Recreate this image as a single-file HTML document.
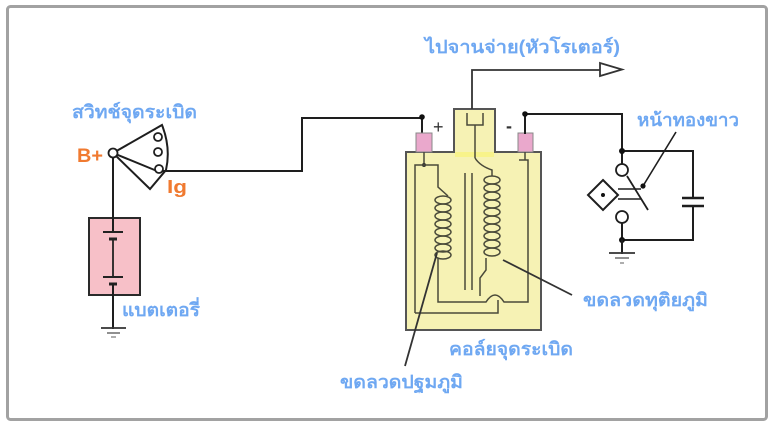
<!DOCTYPE html>
<html>
<head>
<meta charset="utf-8">
<style>
  html,body{margin:0;padding:0;background:#fff;}
  svg{display:block;}
  .w{fill:none;stroke:#1e1e1e;stroke-width:2;stroke-linecap:square;stroke-linejoin:miter;}
  .t{fill:none;stroke:#4a4a3a;stroke-width:1.5;}
  .lb{font-family:"Liberation Sans","DejaVu Sans","Noto Sans CJK SC",sans-serif;font-weight:bold;font-size:18px;fill:#6fa8f2;}
  .or{font-family:"Liberation Sans","DejaVu Sans",sans-serif;font-weight:bold;fill:#f07a30;}
</style>
</head>
<body>
<svg width="773" height="426" viewBox="0 0 773 426" xmlns="http://www.w3.org/2000/svg">
  <rect x="0" y="0" width="773" height="426" fill="#fff"/>
  <!-- frame -->
  <rect x="7.5" y="6.5" width="759" height="413" rx="3" fill="#fff" stroke="#a2a2a2" stroke-width="3"/>

  <!-- ===== Ignition switch ===== -->
  <path class="w" d="M113,153 L162,125 Q171,148 166,170 L150,189 L113,153 Z"/>
  <line class="w" x1="113" y1="153" x2="157" y2="171"/>
  <circle cx="158" cy="137" r="4" fill="#fff" stroke="#1e1e1e" stroke-width="1.8"/>
  <circle cx="158" cy="152" r="4" fill="#fff" stroke="#1e1e1e" stroke-width="1.8"/>
  <circle cx="159" cy="169" r="4" fill="#fff" stroke="#1e1e1e" stroke-width="1.8"/>
  <circle cx="113" cy="153" r="4.5" fill="#fff" stroke="#1e1e1e" stroke-width="1.8"/>
  <!-- wire to coil + -->
  <path class="w" d="M163,171 H302 V118 H422 V133"/>
  <circle cx="422" cy="117" r="2.8" fill="#111"/>

  <!-- ===== Battery ===== -->
  <line class="w" x1="113" y1="158" x2="113" y2="218"/>
  <rect x="89" y="218" width="51" height="77" fill="#f7c0c8" stroke="#2a2a2a" stroke-width="2"/>
  <line class="w" x1="113" y1="218" x2="113" y2="232"/>
  <line x1="103" y1="232" x2="123" y2="232" stroke="#222" stroke-width="2"/>
  <line x1="109" y1="239" x2="117" y2="239" stroke="#222" stroke-width="3"/>
  <line x1="113" y1="239" x2="113" y2="277" stroke="#222" stroke-width="1.8"/>
  <line x1="103" y1="277" x2="123" y2="277" stroke="#222" stroke-width="2"/>
  <line x1="109" y1="284" x2="117" y2="284" stroke="#222" stroke-width="3"/>
  <line class="w" x1="113" y1="284" x2="113" y2="328"/>
  <line x1="101" y1="328" x2="126" y2="328" stroke="#333" stroke-width="1.8"/>
  <line x1="107" y1="333" x2="120" y2="333" stroke="#555" stroke-width="1.3"/>
  <line x1="111" y1="337" x2="116" y2="337" stroke="#777" stroke-width="1.2"/>

  <!-- ===== Ignition coil ===== -->
  <path d="M406,152 H454 V109 H495 V152 H541 V330 H406 Z" fill="#f6f2b4" stroke="#555" stroke-width="2"/>
  <rect x="455" y="152" width="39" height="5" fill="#f8f38a"/>
  <!-- terminals -->
  <rect x="416" y="133" width="16" height="19" fill="#eaa8cc" stroke="#888" stroke-width="1"/>
  <rect x="518" y="133" width="15" height="19" fill="#eaa8cc" stroke="#888" stroke-width="1"/>
  <!-- tower inner -->
  <path class="t" d="M467,113 V125 H483 V113"/>
  <line class="t" x1="475" y1="125" x2="475" y2="158"/>
  <!-- output wire -->
  <path d="M472,109 V70 H600" fill="none" stroke="#333" stroke-width="1.8"/>
  <path d="M600,63 L622,69.5 L600,76 Z" fill="#fff" stroke="#333" stroke-width="1.8"/>

  <!-- internals -->
  <line class="t" x1="424" y1="152" x2="424" y2="165"/>
  <circle cx="424" cy="165" r="2" fill="#333"/>
  <path class="t" d="M415,313 V165 H438 V187 L448,196"/>
  <path class="t" d="M438,258 V302 H486 Q495,288 504,302 H528 V160 H519"/>
  <path class="t" d="M415,313 H498 V300"/>
  <line class="t" x1="525" y1="152" x2="525" y2="160"/>
  <path class="t" d="M475,158 Q480,166 492,170 V176"/>
  <path class="t" d="M486,258 V270 L480,278 V296"/>
  <!-- core -->
  <line class="t" x1="465" y1="173" x2="465" y2="290"/>
  <line class="t" x1="472" y1="173" x2="472" y2="290"/>
  <!-- primary coil -->
  <g fill="none" stroke="#4a4a3a" stroke-width="1.5">
    <ellipse cx="443" cy="200" rx="8" ry="4"/>
    <ellipse cx="443" cy="208" rx="8" ry="4"/>
    <ellipse cx="443" cy="216" rx="8" ry="4"/>
    <ellipse cx="443" cy="224" rx="8" ry="4"/>
    <ellipse cx="443" cy="232" rx="8" ry="4"/>
    <ellipse cx="443" cy="240" rx="8" ry="4"/>
    <ellipse cx="443" cy="248" rx="8" ry="4"/>
    <ellipse cx="443" cy="255" rx="8" ry="4"/>
  </g>
  <!-- secondary coil -->
  <g fill="none" stroke="#4a4a3a" stroke-width="1.5">
    <ellipse cx="492" cy="180" rx="8" ry="4"/>
    <ellipse cx="492" cy="188" rx="8" ry="4"/>
    <ellipse cx="492" cy="196" rx="8" ry="4"/>
    <ellipse cx="492" cy="204" rx="8" ry="4"/>
    <ellipse cx="492" cy="212" rx="8" ry="4"/>
    <ellipse cx="492" cy="220" rx="8" ry="4"/>
    <ellipse cx="492" cy="228" rx="8" ry="4"/>
    <ellipse cx="492" cy="236" rx="8" ry="4"/>
    <ellipse cx="492" cy="244" rx="8" ry="4"/>
    <ellipse cx="492" cy="252" rx="8" ry="4"/>
  </g>
  <!-- leaders -->
  <line x1="437" y1="253" x2="405" y2="366" stroke="#333" stroke-width="1.8"/>
  <line x1="503" y1="260" x2="572" y2="295" stroke="#333" stroke-width="1.8"/>

  <!-- ===== wire from coil - to breaker ===== -->
  <path class="w" d="M525,133 V114 H622 V164"/>
  <circle cx="525" cy="114" r="2.8" fill="#111"/>
  <path class="w" d="M622,151 H693 V198"/>
  <circle cx="622" cy="151" r="3" fill="#111"/>
  <!-- capacitor -->
  <line x1="682" y1="198" x2="704" y2="198" stroke="#1e1e1e" stroke-width="2.5"/>
  <line x1="682" y1="206" x2="704" y2="206" stroke="#1e1e1e" stroke-width="2.5"/>
  <path class="w" d="M693,206 V240 H622 V223"/>
  <circle cx="622" cy="240" r="3" fill="#111"/>
  <!-- ground -->
  <line class="w" x1="622" y1="240" x2="622" y2="253"/>
  <line x1="609" y1="253" x2="635" y2="253" stroke="#333" stroke-width="1.8"/>
  <line x1="615" y1="258" x2="629" y2="258" stroke="#555" stroke-width="1.3"/>
  <line x1="620" y1="263" x2="624" y2="263" stroke="#777" stroke-width="1.2"/>
  <!-- breaker points -->
  <circle cx="622" cy="170" r="6" fill="#fff" stroke="#1e1e1e" stroke-width="1.8"/>
  <circle cx="622" cy="217" r="6" fill="#fff" stroke="#1e1e1e" stroke-width="1.8"/>
  <path d="M603,180 L618,195 L603,210 L588,195 Z" fill="#fff" stroke="#1e1e1e" stroke-width="2"/>
  <circle cx="603" cy="195" r="2" fill="#111"/>
  <line x1="618" y1="189" x2="641" y2="189" stroke="#1e1e1e" stroke-width="1.6"/>
  <line x1="618" y1="199" x2="641" y2="199" stroke="#1e1e1e" stroke-width="1.6"/>
  <line x1="627" y1="176" x2="648" y2="210" stroke="#1e1e1e" stroke-width="1.8"/>
  <line x1="676" y1="132" x2="643" y2="186" stroke="#1e1e1e" stroke-width="1.6"/>
  <circle cx="643" cy="186" r="2.6" fill="#111"/>

  <!-- + / - -->
  <text x="433" y="133" font-family="Liberation Sans, sans-serif" font-size="18" fill="#333">+</text>
  <text x="506" y="132" font-family="Liberation Sans, sans-serif" font-size="18" font-weight="bold" fill="#333">-</text>

  <!-- ===== labels ===== -->
  <text class="lb" x="72" y="118" textLength="125" lengthAdjust="spacingAndGlyphs">สวิทช์จุดระเบิด</text>
  <text class="or" x="77" y="162" font-size="19" textLength="26" lengthAdjust="spacingAndGlyphs">B+</text>
  <text class="or" x="167" y="193" font-size="18" textLength="20" lengthAdjust="spacingAndGlyphs">Ig</text>
  <text class="lb" x="425" y="53" textLength="195" lengthAdjust="spacingAndGlyphs">ไปจานจ่าย(หัวโรเตอร์)</text>
  <text class="lb" x="637" y="126" textLength="102" lengthAdjust="spacingAndGlyphs">หน้าทองขาว</text>
  <text class="lb" x="122" y="316" textLength="78" lengthAdjust="spacingAndGlyphs">แบตเตอรี่</text>
  <text class="lb" x="583" y="306" textLength="125" lengthAdjust="spacingAndGlyphs">ขดลวดทุติยภูมิ</text>
  <text class="lb" x="449" y="355" textLength="124" lengthAdjust="spacingAndGlyphs">คอล์ยจุดระเบิด</text>
  <text class="lb" x="340" y="388" textLength="123" lengthAdjust="spacingAndGlyphs">ขดลวดปฐมภูมิ</text>
</svg>
</body>
</html>
